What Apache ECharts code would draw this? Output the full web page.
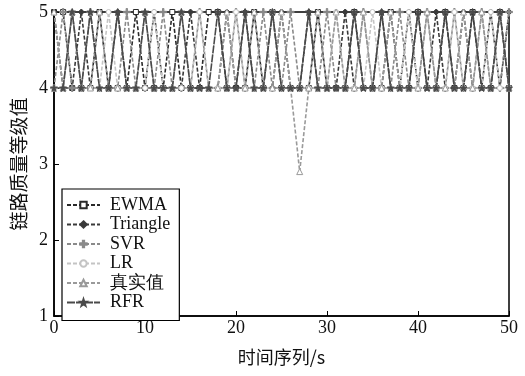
<!DOCTYPE html>
<html>
<head>
<meta charset="utf-8">
<script src="https://cdn.jsdelivr.net/npm/echarts@6/dist/echarts.min.js"></script>
<style>
  html, body { margin: 0; padding: 0; background: #fff; }
  #chart { width: 525px; height: 376px; }
</style>
</head>
<body>
<div id="chart"></div>
<script>
// Time steps 0..50 s
const timeSteps = Array.from({ length: 51 }, (_, i) => i);

// Link quality grade predictions per method (grade 4 or 5 per second)
const ewma     = [5,5,4,4,4,5,4,4,4,5,4,4,4,5,4,4,4,5,5,4,4,4,5,4,5,4,4,4,4,5,4,4,4,5,4,4,4,5,4,4,5,4,4,5,4,4,5,4,4,5,4];
const triangle = [5,4,4,5,4,4,4,5,4,4,4,5,4,4,4,5,4,4,4,5,4,5,4,4,4,5,4,4,5,4,4,4,5,4,4,4,5,4,4,5,4,4,5,4,4,5,4,4,5,4,5];
const svr      = [4,5,4,4,5,4,4,4,5,4,4,4,5,4,4,4,5,4,4,4,5,4,4,5,4,4,5,4,4,4,5,4,4,4,5,4,4,4,5,4,4,5,4,4,5,4,4,5,4,4,5];
const lr       = [4,4,5,4,4,4,5,4,4,4,4,5,4,4,4,4,5,4,4,4,5,4,4,4,5,4,4,4,4,4,4,5,4,4,4,5,4,4,4,5,4,4,4,4,5,4,4,4,5,4,4];
const actual   = [5,4,5,4,4,5,4,4,4,4,5,4,4,4,5,4,4,4,4,5,4,4,5,4,4,5,4,2.9,4,5,4,5,4,4,5,4,4,5,4,4,4,5,4,4,4,5,4,5,4,5,4];
const rfr      = [4,4,5,4,5,4,4,5,4,4,5,4,4,4,5,4,4,4,5,4,4,5,4,4,5,4,4,4,5,4,4,4,4,5,4,4,5,4,4,4,5,4,4,5,4,4,5,4,4,5,4];

// Axis ticks
const xTicks = [0, 10, 20, 30, 40, 50];
const yTicks = [1, 2, 3, 4, 5];

const seriesNames = ['EWMA', 'Triangle', 'SVR', 'LR', '真实值', 'RFR'];

const plusPath = 'path://M4,0h2v4h4v2h-4v4h-2v-4h-4v-2h4z';
const starPath = 'path://M5,0L6.2,3.5L10,3.6L7,5.9L8.1,9.5L5,7.4L1.9,9.5L3,5.9L0,3.6L3.8,3.5Z';

const styles = [
  { data: ewma,     color: '#2a2a2a', symbol: 'rect',     size: 5, fill: '#fff', dash: [4, 2] },
  { data: triangle, color: '#3a3a3a', symbol: 'diamond',  size: 6, fill: '#3a3a3a', dash: [4, 2] },
  { data: svr,      color: '#8a8a8a', symbol: plusPath,   size: 7, fill: '#8a8a8a', dash: [4, 2] },
  { data: lr,       color: '#c4c4c4', symbol: 'circle',   size: 5, fill: '#fff', dash: [4, 2] },
  { data: actual,   color: '#9a9a9a', symbol: 'triangle', size: 6, fill: '#fff', dash: [4, 2] },
  { data: rfr,      color: '#4a4a4a', symbol: starPath,   size: 7, fill: '#4a4a4a', dash: [8, 1] }
];

const chart = echarts.init(document.getElementById('chart'), null, { renderer: 'canvas' });

const serif = '"Liberation Serif", "Times New Roman", serif';
const cjk = '"Noto Sans CJK SC", sans-serif';

chart.setOption({
  animation: false,
  backgroundColor: '#fff',
  grid: {
    left: 54, right: 16, top: 12, bottom: 60,
    show: true, borderColor: '#000', borderWidth: 1.5, backgroundColor: 'transparent'
  },
  legend: {
    orient: 'vertical',
    left: 62, top: 189,
    padding: [7, 9, 9, 4],
    itemGap: 1.5,
    itemWidth: 33, itemHeight: 8,
    backgroundColor: '#fff',
    borderColor: '#000', borderWidth: 1.2,
    textStyle: { fontFamily: serif, fontSize: 18, color: '#111', lineHeight: 18, padding: [0, 0, 0, 5] },
    data: seriesNames
  },
  xAxis: {
    type: 'value', min: 0, max: 50, interval: 10,
    name: '时间序列/s', nameLocation: 'middle', nameGap: 32,
    nameTextStyle: { fontFamily: cjk, fontSize: 18, color: '#111' },
    axisLine: { show: true, lineStyle: { color: '#000', width: 1.5 } },
    axisTick: { show: true, inside: true, length: 5, lineStyle: { color: '#000' } },
    axisLabel: {
      fontFamily: serif, fontSize: 18, color: '#111', margin: 3,
      formatter: v => xTicks.includes(v) ? String(v) : ''
    },
    splitLine: { show: false }
  },
  yAxis: {
    type: 'value', min: 1, max: 5, interval: 1,
    name: '链路质量等级值', nameLocation: 'middle', nameGap: 26, nameRotate: 90,
    nameTextStyle: { fontFamily: cjk, fontSize: 19, color: '#111' },
    axisLine: { show: true, lineStyle: { color: '#000', width: 1.5 } },
    axisTick: { show: true, inside: true, length: 5, lineStyle: { color: '#000' } },
    axisLabel: {
      fontFamily: serif, fontSize: 18, color: '#111', margin: 6,
      formatter: v => yTicks.includes(v) ? String(v) : ''
    },
    splitLine: { show: false }
  },
  series: styles.map((s, i) => ({
    name: seriesNames[i],
    type: 'line',
    data: timeSteps.map((t, k) => [t, s.data[k]]),
    symbol: s.symbol,
    symbolSize: s.size,
    showSymbol: true,
    clip: false,
    lineStyle: { color: s.color, width: 1.6, type: s.dash },
    itemStyle: { color: s.fill, borderColor: s.color, borderWidth: 1 },
    emphasis: { disabled: true }
  }))
});
</script>
</body>
</html>
